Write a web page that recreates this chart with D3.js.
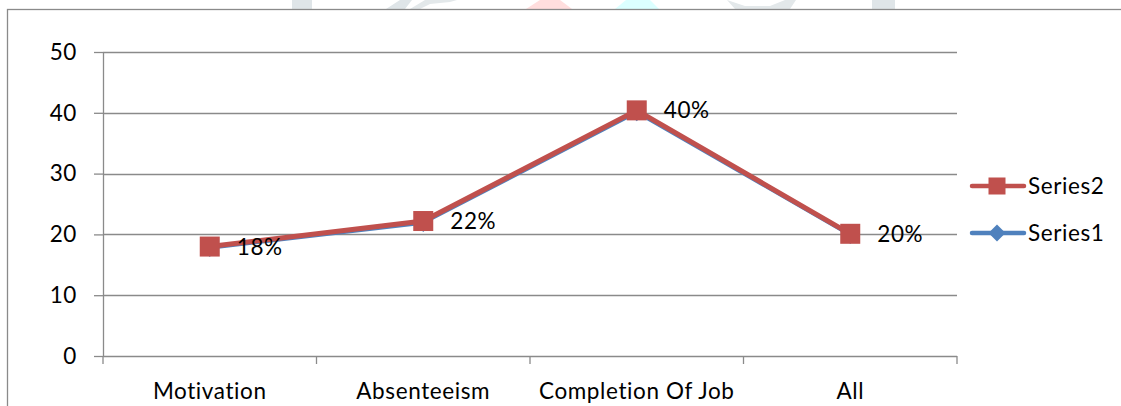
<!DOCTYPE html>
<html><head><meta charset="utf-8">
<script src="https://cdn.jsdelivr.net/npm/d3@7"></script>
<style>
html,body{margin:0;padding:0;background:#fff;}
svg{display:block;}
text{font-family:Lato,"Open Sans",sans-serif;fill:#000;letter-spacing:0.6px;}
</style></head>
<body><svg id="c" width="1121" height="406"></svg>
<script>
const categories = ["Motivation","Absenteeism","Completion Of Job","All"];
const series1 = [17.7, 21.8, 40.0, 19.8];
const series2 = [18.0, 22.2, 40.4, 20.1];
const labels2 = ["18%","22%","40%","20%"];
const yTicks = [0,10,20,30,40,50];
const seriesNames = ["Series2","Series1"];

const FS = 22.5;
const svg = d3.select("#c");
const W = 1121, H = 406;
svg.append("rect").attr("width",W).attr("height",H).attr("fill","#fff");

// faint watermark remnants above the chart frame
const wm = svg.append("g");
[
  {pts:[[292,0],[312,0],[312,9],[292,9]],c:"#dfe5e8"},
  {pts:[[386,9],[400,0],[412,0],[405,9]],c:"#dfe5e8"},
  {pts:[[420,9],[430,4],[450,2],[457,0],[440,0],[425,0],[410,9]],c:"#e3e8ea"},
  {pts:[[526,9],[540,0],[560,0],[572,9]],c:"#ffdede"},
  {pts:[[615,9],[626,0],[650,0],[659,9]],c:"#dcffff"},
  {pts:[[727,0],[745,6],[770,6],[785,0],[796,0],[790,9],[760,9],[735,9]],c:"#e3e8ea"},
  {pts:[[872,0],[895,0],[895,9],[872,9]],c:"#dfe5e8"}
].forEach(s=>wm.append("polygon").attr("points",s.pts.map(p=>p.join(",")).join(" ")).attr("fill",s.c));

// chart frame
svg.append("rect").attr("x",7.5).attr("y",9.5).attr("width",1130).attr("height",420)
  .attr("fill","#fff").attr("stroke","#8a8a8a").attr("stroke-width",1.3);

const x0 = 103, x1 = 957, yTop = 52, yBot = 356;
const x = d3.scaleBand().domain(categories).range([x0,x1]).paddingInner(0).paddingOuter(0);
const y = d3.scaleLinear().domain([0,50]).range([yBot,yTop]);
const cx = c => x(c) + x.bandwidth()/2;

// gridlines
svg.append("g").selectAll("line").data(yTicks.filter(t=>t>0)).join("line")
  .attr("x1",x0).attr("x2",x1).attr("y1",d=>Math.round(y(d))+0.5).attr("y2",d=>Math.round(y(d))+0.5)
  .attr("stroke","#8a8a8a").attr("stroke-width",1.3);

// y axis
const yAxis = d3.axisLeft(y).tickValues(yTicks).tickSize(9).tickPadding(17).tickSizeOuter(0);
const gy = svg.append("g").attr("transform",`translate(${x0},0)`).call(yAxis);
gy.select(".domain").attr("stroke","#8a8a8a").attr("stroke-width",1.3);
gy.selectAll(".tick line").attr("stroke","#8a8a8a").attr("stroke-width",1.3);
gy.selectAll(".tick text").attr("font-size",FS).attr("font-family","Lato,'Open Sans',sans-serif").attr("fill","#000");

// x axis with ticks at band boundaries
const gx = svg.append("g").attr("transform",`translate(0,${yBot})`);
gx.append("line").attr("x1",x0).attr("x2",x1).attr("y1",0.5).attr("y2",0.5)
  .attr("stroke","#8a8a8a").attr("stroke-width",1.3);
const bounds = categories.map(c=>x(c)).concat([x1]);
gx.selectAll("line.tk").data(bounds).join("line").attr("class","tk")
  .attr("x1",d=>d).attr("x2",d=>d).attr("y1",0).attr("y2",8)
  .attr("stroke","#8a8a8a").attr("stroke-width",1.3);
gx.selectAll("text").data(categories).join("text")
  .attr("x",d=>cx(d)).attr("y",43).attr("text-anchor","middle").attr("font-size",FS)
  .text(d=>d);

// lines
const line = d3.line().x((d,i)=>cx(categories[i])).y(d=>y(d));
svg.append("path").datum(series1).attr("d",line).attr("fill","none")
  .attr("stroke","#4f81bd").attr("stroke-width",2.5).attr("stroke-linejoin","round");
const diamond = (px,py,r)=>`M${px},${py-r}L${px+r},${py}L${px},${py+r}L${px-r},${py}Z`;
svg.append("g").selectAll("path").data(series1).join("path")
  .attr("d",(d,i)=>diamond(cx(categories[i]),y(d),8.5)).attr("fill","#4f81bd");

svg.append("path").datum(series2).attr("d",line).attr("fill","none")
  .attr("stroke","#c0504d").attr("stroke-width",5).attr("stroke-linejoin","round");
const sq = 20;
svg.append("g").selectAll("rect").data(series2).join("rect")
  .attr("x",(d,i)=>cx(categories[i])-sq/2).attr("y",d=>y(d)-sq/2)
  .attr("width",sq).attr("height",sq).attr("fill","#c0504d");

// data labels
svg.append("g").selectAll("text").data(series2).join("text")
  .attr("x",(d,i)=>cx(categories[i])+27).attr("y",d=>y(d)+8)
  .attr("font-size",FS).text((d,i)=>labels2[i]);

// legend
const lg = svg.append("g");
const legY = [186,233];
seriesNames.forEach((n,i)=>{
  const yy = legY[i];
  const col = i===0 ? "#c0504d" : "#4f81bd";
  lg.append("line").attr("x1",972).attr("x2",1024).attr("y1",yy).attr("y2",yy)
    .attr("stroke",col).attr("stroke-width",4.5).attr("stroke-linecap","round");
  if(i===0) lg.append("rect").attr("x",997-8.5).attr("y",yy-8.5).attr("width",17).attr("height",17).attr("fill",col);
  else lg.append("path").attr("d",diamond(997,yy,8.5)).attr("fill",col);
  lg.append("text").attr("x",1028).attr("y",yy+8).attr("font-size",FS).text(n);
});
</script></body></html>
